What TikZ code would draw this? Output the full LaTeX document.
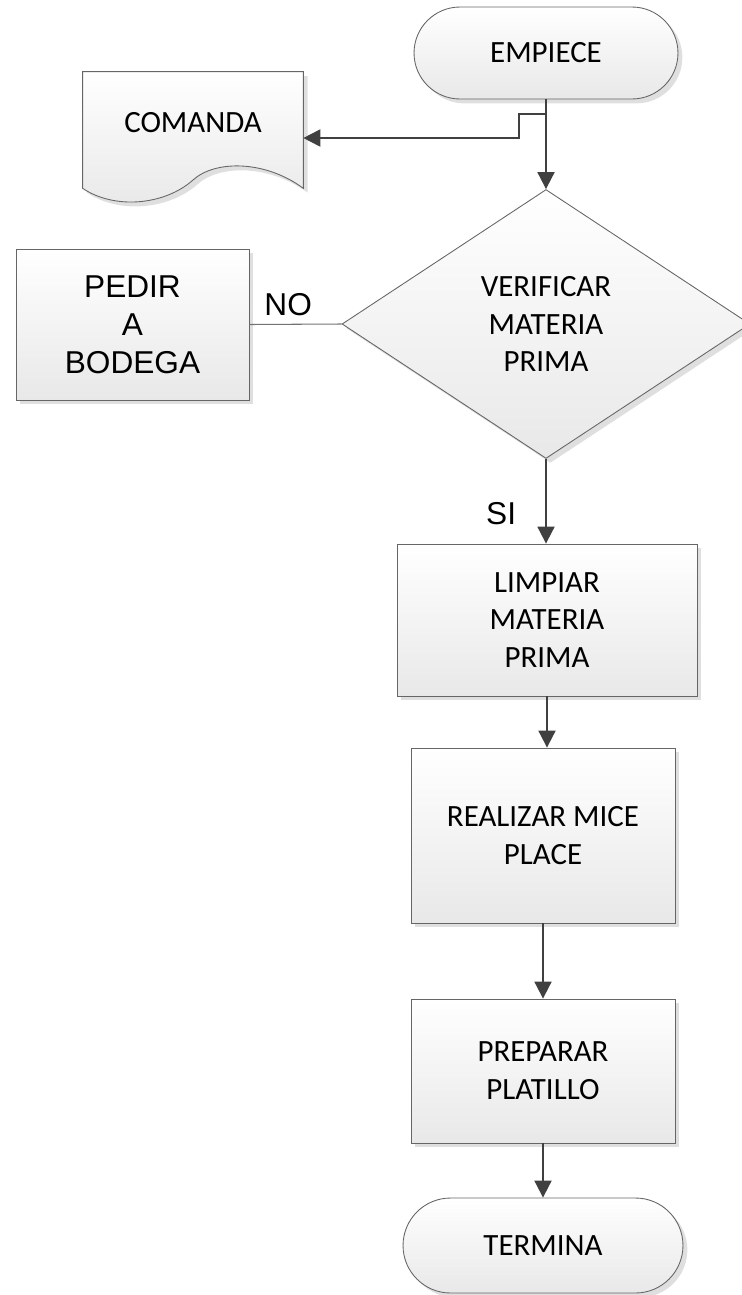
\documentclass[tikz,border=0pt]{standalone}
\usepackage{fontspec}
\setmainfont{Carlito}
\newfontfamily\arialfont{Liberation Sans}
\usetikzlibrary{arrows.meta,shapes.geometric,shapes.misc,shadows,positioning}

\tikzset{
  boxfill/.style={draw=black!60, line width=0.5pt, top color=white, bottom color=black!9,
    drop shadow={shadow xshift=2.5pt, shadow yshift=-2.5pt, fill=black!25, opacity=0.5}},
  procbox/.style={boxfill, rectangle, align=center, inner sep=0pt,
    font=\fontsize{17.6}{21.5}\selectfont},
  termbox/.style={boxfill, rounded rectangle, align=center, inner sep=0pt,
    font=\fontsize{17.6}{21.5}\selectfont},
  decbox/.style={boxfill, diamond, align=center, inner sep=0pt,
    font=\fontsize{17.6}{21.5}\selectfont},
  arialtxt/.style={font=\arialfont\fontsize{18}{21.7}\selectfont},
  flow/.style={draw=black!75, line width=1.1pt, -{Triangle[length=0.34cm,width=0.34cm]}},
  noline/.style={draw=black!55, line width=0.6pt}
}

\begin{document}
\begin{tikzpicture}[x=0.02cm,y=-0.02cm]
  \useasboundingbox (0,0) rectangle (742,1295);

  \node[termbox, minimum width=5.28cm, minimum height=1.84cm] (empiece) at (546,53) {EMPIECE};
  \node[draw=none, minimum width=4.4cm, minimum height=2.32cm, inner sep=0pt,
        font=\fontsize{17.6}{21.5}\selectfont] (comanda) at (193,130) {};
  \path[boxfill] (comanda.north west) -- (comanda.north east) -- (comanda.south east)
     .. controls (265,160) and (215,160) .. (193,180)
     .. controls (165,205) and (115,210) .. (comanda.south west) -- cycle;
  \node[font=\fontsize{17.6}{21.5}\selectfont] at ([yshift=0.14cm]comanda.center) {COMANDA};
  \node[decbox, minimum width=8.16cm, minimum height=5.38cm] (verificar) at (546,324)
        {VERIFICAR\\MATERIA\\PRIMA};
  \node[procbox, arialtxt, minimum width=4.66cm, minimum height=3.02cm] (pedir) at (132.5,324.5)
        {PEDIR\\A\\BODEGA};
  \node[procbox, minimum width=6cm, minimum height=3.04cm] (limpiar) at (547,620)
        {LIMPIAR\\MATERIA\\PRIMA};
  \node[procbox, minimum width=5.28cm, minimum height=3.5cm] (realizar) at (543,835.5)
        {REALIZAR MICE\\PLACE};
  \node[procbox, minimum width=5.28cm, minimum height=2.88cm] (preparar) at (543,1071)
        {PREPARAR\\PLATILLO};
  \node[termbox, minimum width=5.6cm, minimum height=1.9cm] (termina) at (543,1245.5) {TERMINA};

  \coordinate (split) at (546,114);
  \coordinate (jog) at (519,138);

  \draw[flow] (empiece.south) -- (verificar.north);
  \draw[flow] (split) -| (jog) -- (jog -| comanda.east);
  \draw[noline] (pedir.east) -- (verificar.west)
        node[pos=0.42, above=4.5pt, inner sep=0pt, arialtxt] {NO};
  \draw[flow] (verificar.south) -- (verificar.south |- limpiar.north)
        node[pos=0.65, left=0.58cm, inner sep=0pt, arialtxt] {SI};
  \draw[flow] (limpiar.south) -- (limpiar.south |- realizar.north);
  \draw[flow] (realizar.south) -- (preparar.north);
  \draw[flow] (preparar.south) -- (termina.north);
\end{tikzpicture}
\end{document}
